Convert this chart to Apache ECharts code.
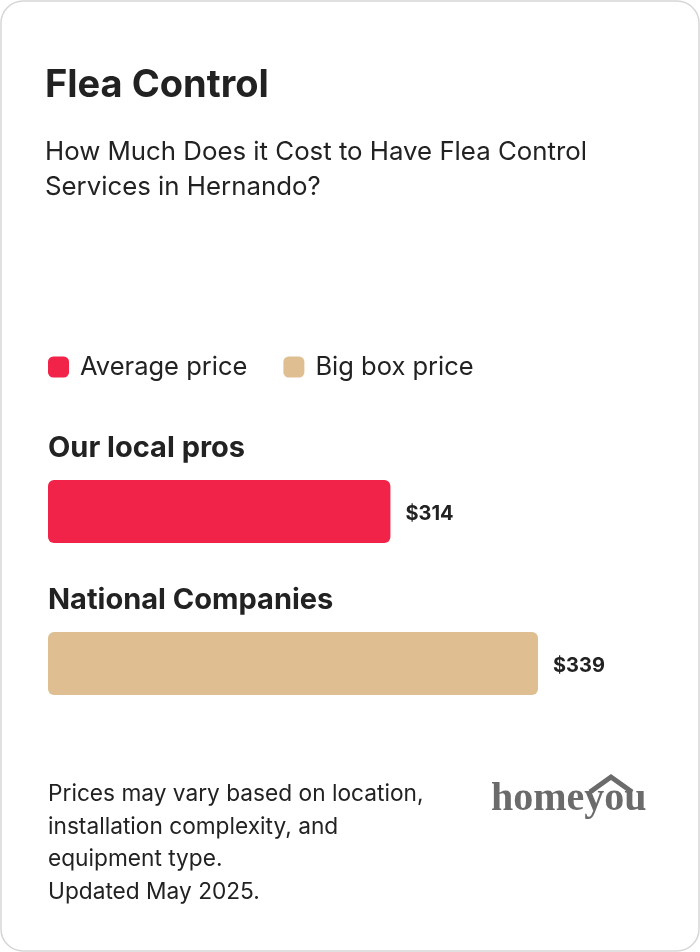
<!DOCTYPE html>
<html><head><meta charset="utf-8">
<script src="https://cdn.jsdelivr.net/npm/echarts@6/dist/echarts.min.js"></script>
<style>html,body{margin:0;padding:0;background:#fff}#c{width:700px;height:952px}</style>
</head><body><div id="c"></div>
<script>
const categories = ['Our local pros', 'National Companies'];
const seriesNames = ['Average price', 'Big box price'];
const averageValues = [314, '-'];
const bigBoxValues = ['-', 339];
const allValues = [314, 339];
const colors = ['#f12349', '#dfbf92'];
const font = 'Inter, sans-serif';

const chart = echarts.init(document.getElementById('c'));
const valLabel = {show: true, position: 'right', distance: 15, offset: [0, 2], formatter: p => '$' + p.value,
  color: '#222', fontWeight: 'bold', fontSize: 20, fontFamily: font};
chart.setOption({
  animation: false,
  graphic: [
    {type: 'rect', shape: {x: 1, y: 1, width: 698, height: 950, r: 22}, style: {fill: '#fff', stroke: '#d6d6d6', lineWidth: 1.5}, z: -10},
    {type: 'text', left: 45, top: 67, style: {text: 'Flea Control', font: 'bold 38px ' + font, fill: '#222'}},
    {type: 'text', left: 45, top: 135, style: {text: 'How Much Does it Cost to Have Flea Control\nServices in Hernando?', font: '25.8px ' + font, fill: '#222', lineHeight: 35}},
    {type: 'text', left: 48, top: 778, style: {text: 'Prices may vary based on location,\ninstallation complexity, and\nequipment type.\nUpdated May 2025.', font: '22.7px ' + font, fill: '#222', lineHeight: 32.5}},
    {type: 'text', left: 491, top: 780, style: {text: 'homeyou', font: 'bold 40px "Liberation Serif", serif', fill: '#6b6b6b'}},
    {type: 'polyline', shape: {points: [[590, 792], [611, 777], [632, 792]]}, style: {stroke: '#6b6b6b', lineWidth: 5, fill: null}}
  ],
  legend: {left: 43, top: 349, itemWidth: 21, itemHeight: 21, itemGap: 36, icon: 'roundRect',
    textStyle: {fontSize: 25.5, color: '#222', fontFamily: font, padding: [0, 0, 0, 6]}, data: seriesNames},
  grid: {left: 48, right: 162, top: 435.5, height: 304},
  xAxis: {type: 'value', min: 256, max: 339, show: false},
  yAxis: {type: 'category', data: categories, inverse: true, show: false},
  series: [
    {name: seriesNames[0], type: 'bar', data: averageValues, barWidth: 63, barGap: '-100%',
      itemStyle: {color: colors[0], borderRadius: 6}, label: valLabel},
    {name: seriesNames[1], type: 'bar', data: bigBoxValues, barWidth: 63, barGap: '-100%',
      itemStyle: {color: colors[1], borderRadius: 6}, label: valLabel},
    {name: 'names', type: 'bar', data: allValues, barWidth: 63, barGap: '-100%', silent: true,
      itemStyle: {color: 'rgba(0,0,0,0)'},
      label: {show: true, position: [0, -46], formatter: '{b}', color: '#222', fontWeight: 'bold', fontSize: 29, fontFamily: font}}
  ]
});
</script></body></html>
